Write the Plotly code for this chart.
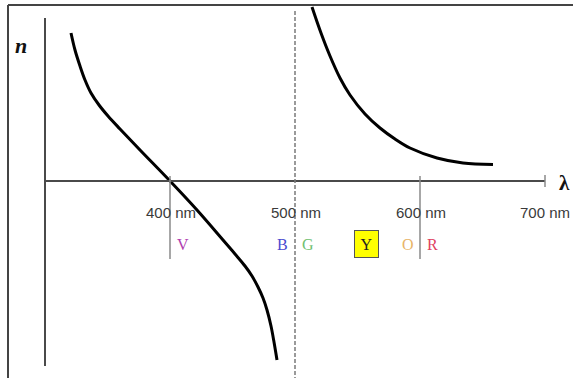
import plotly.graph_objects as go

# Refractive index n versus wavelength (nm) on either side of an absorption line at 500 nm
left_wl = [320.8, 324, 328, 332, 336.8, 343.2, 350.4, 360, 376, 400, 421.6, 442.4, 452, 460,
           465.6, 470.4, 474.4, 477.6, 480.8, 483.2, 485.6]
left_n = [1.592, 1.524, 1.46, 1.404, 1.352, 1.304, 1.26, 1.208, 1.124, 1.0, 0.884, 0.764, 0.708, 0.66,
          0.62, 0.576, 0.532, 0.484, 0.42, 0.356, 0.284]

right_wl = [513.6, 520.8, 528, 536, 544, 556, 568, 580, 592, 613.6, 634.4, 658.4]
right_n = [1.696, 1.592, 1.5, 1.412, 1.344, 1.268, 1.212, 1.168, 1.132, 1.092, 1.072, 1.066]

# Axis tick wavelengths and their labels
tick_wl = [400, 500, 600, 700]
tick_labels = ["400 nm", "500 nm", "600 nm", "700 nm"]
resonance_wl = 500

# Colour letters of the visible spectrum
band_letters = ["V", "B", "G", "Y", "O", "R"]
band_wl = [410.4, 489.6, 510.4, 556.8, 590.4, 609.6]
band_colors = ["#b040b0", "#4a4ad0", "#70c070", "#222222", "#e8b468", "#e04060"]

x_min, x_max = 300, 700
n_axis = 1.0
n_bottom, n_top = 0.26, 1.652

fig = go.Figure()

for wl, n in [(left_wl, left_n), (right_wl, right_n)]:
    fig.add_trace(go.Scatter(x=wl, y=n, mode="lines",
                             line=dict(color="black", width=3, shape="spline", smoothing=1.0),
                             hoverinfo="skip", showlegend=False))

shapes = []
axis_col = "#4a4a4a"
# Axes
shapes.append(dict(type="line", x0=x_min, x1=x_min, y0=n_bottom, y1=n_top, line=dict(color=axis_col, width=2)))
shapes.append(dict(type="line", x0=x_min, x1=x_max, y0=n_axis, y1=n_axis, line=dict(color=axis_col, width=2)))
# Ticks
for wl in tick_wl:
    if wl == resonance_wl:
        shapes.append(dict(type="line", x0=wl, x1=wl, y0=0.2, y1=1.684,
                           line=dict(color="#7a7a7a", width=1.5, dash="4px,2px")))
    elif wl == x_max:
        shapes.append(dict(type="line", x0=wl, x1=wl, y0=0.976, y1=1.024, line=dict(color="#8a8a8a", width=1.5)))
    else:
        shapes.append(dict(type="line", x0=wl, x1=wl, y0=0.688, y1=1.02, line=dict(color="#8a8a8a", width=1.5)))
# Frame
shapes.append(dict(type="line", xref="paper", yref="paper", x0=8 / 573, x1=8 / 573, y0=0, y1=1 - 5 / 378,
                   line=dict(color="#444444", width=2)))
shapes.append(dict(type="line", xref="paper", yref="paper", x0=8 / 573, x1=1, y0=1 - 5 / 378, y1=1 - 5 / 378,
                   line=dict(color="#444444", width=2)))

annotations = []
for wl, lab in zip(tick_wl, tick_labels):
    annotations.append(dict(x=wl, y=0.876, text=lab, showarrow=False, xanchor="center", yanchor="middle",
                            xshift=1 if wl < x_max else 0,
                            font=dict(family="Liberation Sans, Arial", size=15, color="#3a3a3a")))

for let, wl, col in zip(band_letters, band_wl, band_colors):
    box = dict()
    if let == "Y":
        box = dict(bgcolor="#ffff00", bordercolor="#555555", borderwidth=1, borderpad=4, width=15, height=18)
    annotations.append(dict(x=wl, y=0.748, text=let, showarrow=False, xanchor="center", yanchor="middle",
                            font=dict(family="Liberation Serif, Times New Roman", size=16, color=col), **box))

annotations.append(dict(xref="paper", yref="paper", x=21 / 573, y=1 - 45 / 378, text="<b><i>n</i></b>",
                        showarrow=False, xanchor="center", yanchor="middle",
                        font=dict(family="Liberation Serif, Times New Roman", size=22, color="#111111")))
annotations.append(dict(xref="paper", yref="paper", x=557 / 573, y=1 - 183 / 378, text="<b>λ</b>",
                        showarrow=False, xanchor="left", yanchor="middle",
                        font=dict(family="Liberation Serif, Times New Roman", size=21, color="#111111")))

fig.update_layout(
    width=573, height=378, margin=dict(l=0, r=0, t=0, b=0),
    paper_bgcolor="white", plot_bgcolor="white",
    xaxis=dict(range=[264, 722.4], visible=False, fixedrange=True),
    yaxis=dict(range=[0.212, 1.724], visible=False, fixedrange=True),
    shapes=shapes, annotations=annotations,
)

fig.write_html("out.html")
